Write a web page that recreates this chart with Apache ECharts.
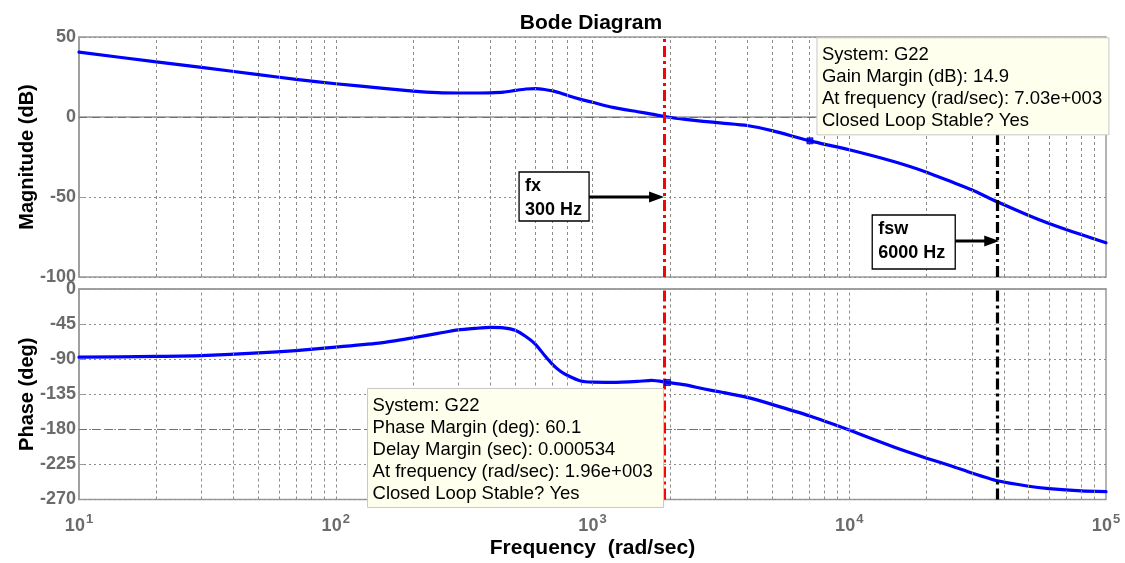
<!DOCTYPE html>
<html>
<head>
<meta charset="utf-8">
<title>Bode Diagram</title>
<script src="https://cdn.jsdelivr.net/npm/echarts@6/dist/echarts.min.js"></script>
<style>
  html, body { margin: 0; padding: 0; background: #ffffff; }
  #chart { width: 1125px; height: 563px; }
</style>
</head>
<body>
<div id="chart"></div>
<script>
// Frequency response of G22 (rad/sec, dB, deg)
const freq = [10, 20, 30, 50, 70, 100, 150, 200, 250, 300, 350, 400, 450, 500, 550, 600, 650, 700, 750, 800,
  900, 1000, 1200, 1500, 1700, 1960, 2300, 2700, 3200, 4000, 5000, 7030, 10000, 15000, 20000, 25000, 30000,
  37700, 50000, 60000, 80000, 100000];
const magnitude = [40.5, 34.5, 31.0, 26.5, 23.5, 20.8, 18.1, 16.2, 15.2, 15.0, 15.0, 15.1, 15.5, 16.6, 17.5, 17.7,
  17.2, 16.3, 15.0, 13.4, 11.0, 9.2, 6.0, 3.3, 1.8, 0.0, -1.5, -2.7, -3.8, -5.3, -8.5, -14.9, -20.5, -28.0, -34.5,
  -40.5, -45.5, -53.0, -61.5, -66.5, -73.5, -78.6];
const phase = [-87.5, -86.5, -85.5, -82.0, -79.0, -74.5, -69.0, -62.5, -57.0, -52.5, -50.5, -49.2, -49.8, -53.0,
  -61.0, -71.0, -85.0, -97.0, -105.6, -111.0, -118.0, -119.5, -119.7, -118.5, -117.3, -119.9, -123.0, -128.0,
  -132.5, -139.0, -148.0, -163.0, -181.0, -203.0, -217.0, -227.0, -236.0, -246.0, -253.0, -256.0, -259.0, -260.0];

// Axis ticks
const decadeTicks = [10, 100, 1000, 10000, 100000];
const minorSteps = [2, 3, 4, 5, 6, 7, 8, 9];
const magTicks = [-100, -50, 0, 50];
const phaseTicks = [-270, -225, -180, -135, -90, -45, 0];

// Marked frequencies (rad/sec)
const fxFreq = 1900;     // 300 Hz
const fswFreq = 37700;   // 6000 Hz
const fxLabel = ['fx', '300 Hz'];
const fswLabel = ['fsw', '6000 Hz'];

// Stability margins
const gainMarginPoint = [7030, -14.9];
const phaseMarginPoint = [1960, -119.9];
const gainMarginText = ['System: G22', 'Gain Margin (dB): 14.9', 'At frequency (rad/sec): 7.03e+003',
  'Closed Loop Stable? Yes'];
const phaseMarginText = ['System: G22', 'Phase Margin (deg): 60.1', 'Delay Margin (sec): 0.000534',
  'At frequency (rad/sec): 1.96e+003', 'Closed Loop Stable? Yes'];

const FONT = '"Liberation Sans", Arial, Helvetica, sans-serif';
const GRID_COLOR = '#8c8c8c';
const AXIS_COLOR = '#9a9a9a';
const LABEL_COLOR = '#6b6b6b';

const gridFreqs = [];
decadeTicks.slice(0, -1).forEach(d => {
  minorSteps.forEach(k => gridFreqs.push(k * d));
  if (d !== decadeTicks[0]) gridFreqs.push(d);
});

const chart = echarts.init(document.getElementById('chart'), null, { renderer: 'canvas' });

const xAxisCommon = {
  type: 'log',
  logBase: 10,
  min: decadeTicks[0],
  max: decadeTicks[decadeTicks.length - 1],
  axisLine: { show: true, lineStyle: { color: AXIS_COLOR, width: 1.5 } },
  axisTick: { show: false },
  splitLine: { show: false }
};

const yAxisCommon = {
  type: 'value',
  axisLine: { show: true, lineStyle: { color: AXIS_COLOR, width: 1.5 } },
  axisTick: { show: true, inside: true, length: 5, lineStyle: { color: AXIS_COLOR } },
  splitLine: { show: true, lineStyle: { color: GRID_COLOR, type: [2, 3], width: 1 } },
  nameLocation: 'middle',
  nameRotate: 90,
  nameMoveOverlap: false,
  nameTextStyle: { fontFamily: FONT, fontSize: 20, fontWeight: 'bold', color: '#000' },
  axisLabel: { fontFamily: FONT, fontSize: 18, fontWeight: 'bold', color: LABEL_COLOR, margin: 3,
    showMinLabel: true, showMaxLabel: true }
};

function verticalGrid(xi, yi) {
  return {
    type: 'line', xAxisIndex: xi, yAxisIndex: yi, data: [], silent: true,
    markLine: {
      silent: true, symbol: 'none', animation: false, label: { show: false },
      lineStyle: { color: GRID_COLOR, type: [3, 3], width: 1 },
      data: gridFreqs.map(f => ({ xAxis: f }))
    }
  };
}

function markerLine(xi, yi, f, color, width) {
  return {
    type: 'line', xAxisIndex: xi, yAxisIndex: yi, data: [], silent: true, z: 5,
    markLine: {
      silent: true, symbol: 'none', animation: false, label: { show: false },
      lineStyle: { color: color, type: [11, 4, 3, 4], width: width },
      data: [{ xAxis: f }]
    }
  };
}

function referenceLine(xi, yi, value) {
  return {
    type: 'line', xAxisIndex: xi, yAxisIndex: yi, data: [], silent: true,
    markLine: {
      silent: true, symbol: 'none', animation: false, label: { show: false },
      lineStyle: { color: '#707070', type: [8, 5], width: 1.2 },
      data: [{ yAxis: value }]
    }
  };
}

const curveStyle = {
  type: 'line', z: 4, smooth: 0.2, showSymbol: false, symbol: 'none',
  lineStyle: { color: '#0000ff', width: 3.2, join: 'round', cap: 'round' }
};

const option = {
  animation: false,
  backgroundColor: '#ffffff',
  title: {
    text: 'Bode Diagram', left: 586, top: 8, textAlign: 'center',
    textStyle: { fontFamily: FONT, fontSize: 21, fontWeight: 'bold', color: '#000' }
  },
  grid: [
    { left: 79, top: 37, width: 1027, height: 240, show: true, borderColor: AXIS_COLOR, borderWidth: 1.5,
      backgroundColor: 'transparent' },
    { left: 79, top: 289, width: 1027, height: 210.5, show: true, borderColor: AXIS_COLOR, borderWidth: 1.5,
      backgroundColor: 'transparent' }
  ],
  xAxis: [
    Object.assign({}, xAxisCommon, { gridIndex: 0, axisLabel: { show: false } }),
    Object.assign({}, xAxisCommon, {
      gridIndex: 1,
      name: 'Frequency  (rad/sec)', nameLocation: 'middle', nameGap: 38,
      nameTextStyle: { fontFamily: FONT, fontSize: 21, fontWeight: 'bold', color: '#000' },
      axisLabel: {
        show: true, margin: 13,
        formatter: v => '{b|10}{s|' + Math.round(Math.log10(v)) + '}',
        rich: {
          b: { fontFamily: FONT, fontSize: 18, fontWeight: 'bold', color: LABEL_COLOR },
          s: { fontFamily: FONT, fontSize: 13, fontWeight: 'bold', color: LABEL_COLOR, padding: [0, 0, 15, 1] }
        }
      }
    })
  ],
  yAxis: [
    Object.assign({}, yAxisCommon, {
      gridIndex: 0, min: magTicks[0], max: magTicks[magTicks.length - 1], interval: 50,
      name: 'Magnitude (dB)', nameGap: 42
    }),
    Object.assign({}, yAxisCommon, {
      gridIndex: 1, min: phaseTicks[0], max: phaseTicks[phaseTicks.length - 1], interval: 45,
      name: 'Phase (deg)', nameGap: 42
    })
  ],
  series: [
    verticalGrid(0, 0),
    verticalGrid(1, 1),
    referenceLine(0, 0, 0),
    referenceLine(1, 1, -180),
    Object.assign({}, curveStyle, {
      name: 'Magnitude', xAxisIndex: 0, yAxisIndex: 0,
      data: freq.map((f, i) => [f, magnitude[i]])
    }),
    Object.assign({}, curveStyle, {
      name: 'Phase', xAxisIndex: 1, yAxisIndex: 1,
      data: freq.map((f, i) => [f, phase[i]])
    }),
    markerLine(0, 0, fxFreq, '#ff0000', 3),
    markerLine(1, 1, fxFreq, '#ff0000', 3),
    markerLine(0, 0, fswFreq, '#000000', 3.2),
    markerLine(1, 1, fswFreq, '#000000', 3.2),
    {
      type: 'scatter', xAxisIndex: 0, yAxisIndex: 0, z: 6, silent: true,
      data: [gainMarginPoint], symbol: 'rect', symbolSize: 6,
      itemStyle: { color: '#0000ff', borderColor: '#0000aa', borderWidth: 1 }
    },
    {
      type: 'scatter', xAxisIndex: 1, yAxisIndex: 1, z: 6, silent: true,
      data: [phaseMarginPoint], symbol: 'rect', symbolSize: 6,
      itemStyle: { color: '#0000ff', borderColor: '#0000aa', borderWidth: 1 }
    }
  ]
};

chart.setOption(option);

// Datatip boxes and frequency annotations, placed from the axes' own scales
function datatip(lines, left, top, width) {
  const lineGap = 22;
  const height = lines.length * lineGap + 9;
  const els = [{
    type: 'rect', z: 20,
    shape: { x: left, y: top, width: width, height: height },
    style: { fill: '#ffffee', stroke: '#c8c8c8', lineWidth: 1 }
  }];
  lines.forEach((t, i) => els.push({
    type: 'text', z: 21, x: left + 5, y: top + 17 + i * lineGap,
    style: { text: t, fill: '#000', font: '18.5px ' + FONT, textVerticalAlign: 'middle' }
  }));
  return { els, height };
}

function arrowNote(lines, boxLeft, boxTop, boxW, boxH, ay, tipX) {
  const els = [{
    type: 'rect', z: 20,
    shape: { x: boxLeft, y: boxTop, width: boxW, height: boxH },
    style: { fill: '#ffffff', stroke: '#000', lineWidth: 1.3 }
  }];
  lines.forEach((t, i) => els.push({
    type: 'text', z: 21, x: boxLeft + 6, y: boxTop + 14 + i * 24,
    style: { text: t, fill: '#000', font: 'bold 18px ' + FONT, textVerticalAlign: 'middle' }
  }));
  const x0 = boxLeft + boxW;
  els.push({
    type: 'line', z: 21,
    shape: { x1: x0, y1: ay, x2: tipX - 12, y2: ay },
    style: { stroke: '#000', lineWidth: 3 }
  });
  els.push({
    type: 'polygon', z: 21,
    shape: { points: [[tipX, ay], [tipX - 15, ay - 5.5], [tipX - 15, ay + 5.5]] },
    style: { fill: '#000' }
  });
  return els;
}

const gmPx = chart.convertToPixel({ gridIndex: 0 }, gainMarginPoint);
const pmPx = chart.convertToPixel({ gridIndex: 1 }, phaseMarginPoint);
const fxPx = chart.convertToPixel({ gridIndex: 0 }, [fxFreq, -50]);
const fswPx = chart.convertToPixel({ gridIndex: 0 }, [fswFreq, -77.5]);

const gm = datatip(gainMarginText, gmPx[0] + 7, 0, 292);
gm.els.forEach(e => {
  if (e.type === 'rect') e.shape.y = gmPx[1] - 6 - gm.height;
  else e.y += gmPx[1] - 6 - gm.height;
});
const pmW = 296;
const pm = datatip(phaseMarginText, pmPx[0] - 4 - pmW, pmPx[1] + 6, pmW);

const graphics = []
  .concat(gm.els)
  .concat(pm.els)
  .concat(arrowNote(fxLabel, fxPx[0] - 145, fxPx[1] - 25, 70, 49, fxPx[1], fxPx[0]))
  .concat(arrowNote(fswLabel, fswPx[0] - 125, fswPx[1] - 26, 83, 54, fswPx[1], fswPx[0] + 2));

chart.setOption({ graphic: graphics });
</script>
</body>
</html>
